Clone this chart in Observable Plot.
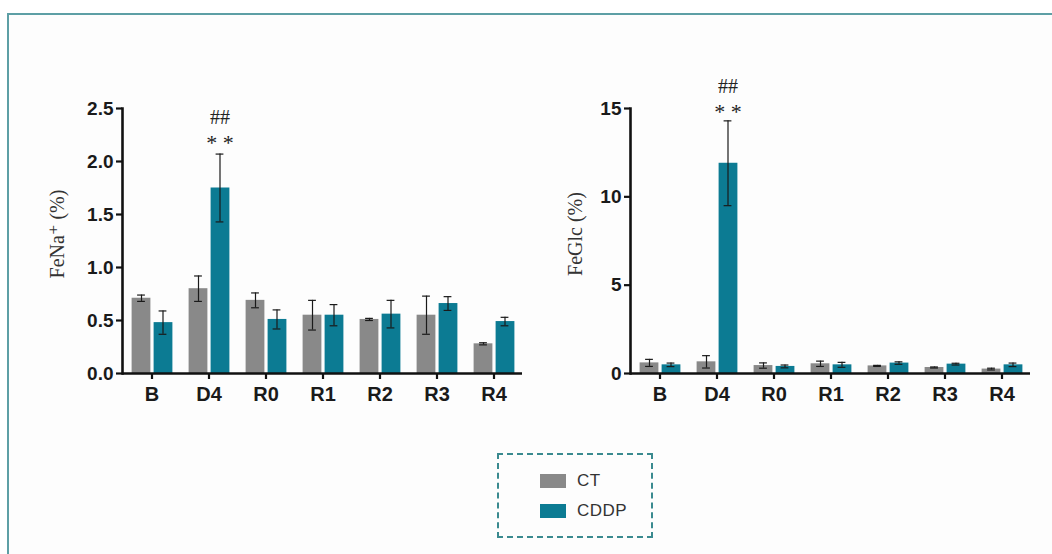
<!DOCTYPE html>
<html>
<head>
<meta charset="utf-8">
<script src="https://cdn.jsdelivr.net/npm/d3@7"></script>
<script src="https://cdn.jsdelivr.net/npm/@observablehq/plot@0.6"></script>
<style>
  html, body { margin: 0; padding: 0; background: #ffffff; width: 1052px; height: 554px; overflow: hidden; }
  #frame { position: absolute; left: 7px; top: 13px; width: 1070px; height: 570px; border: 2px solid #5d9fa5; background: #fdfdfd; }
  .panel { position: absolute; top: 60px; }
  #legend { position: absolute; left: 497px; top: 453px; width: 152px; height: 81px; border: 2px dashed #3a8a8f; font-family: "Liberation Sans", Arial, sans-serif; font-size: 17px; color: #333; }
  .item { position: absolute; left: 41px; height: 14px; }
  .sw { position: absolute; left: 0; top: 0; width: 26px; height: 14px; }
  .lab { position: absolute; left: 37px; top: -3px; line-height: 20px; white-space: nowrap; letter-spacing: 0.5px; }
</style>
</head>
<body>
<div id="frame"></div>
<div id="left" class="panel" style="left:40px"></div>
<div id="right" class="panel" style="left:548px"></div>
<div id="legend"></div>
<script>
const categories = ["B", "D4", "R0", "R1", "R2", "R3", "R4"];
const seriesNames = ["CT", "CDDP"];
const seriesColors = ["#898989", "#0c7b93"];

const fenaCT       = [0.71, 0.80, 0.69, 0.55, 0.51, 0.55, 0.28];
const fenaCTerr    = [0.03, 0.12, 0.07, 0.14, 0.01, 0.18, 0.01];
const fenaCDDP     = [0.48, 1.75, 0.51, 0.55, 0.56, 0.66, 0.49];
const fenaCDDPerr  = [0.11, 0.32, 0.09, 0.10, 0.13, 0.065, 0.04];

const feglcCT      = [0.60, 0.66, 0.45, 0.55, 0.43, 0.34, 0.25];
const feglcCTerr   = [0.20, 0.35, 0.15, 0.15, 0.03, 0.03, 0.05];
const feglcCDDP    = [0.49, 11.9, 0.40, 0.49, 0.59, 0.53, 0.49];
const feglcCDDPerr = [0.10, 2.4, 0.08, 0.14, 0.07, 0.05, 0.10];

const fenaTicks  = [0, 0.5, 1.0, 1.5, 2.0, 2.5];
const feglcTicks = [0, 5, 10, 15];

const markCategory = "D4";
const markTop = "##";
const markBottom = "* *";

function rows(vals, errs) {
  return categories.map((c, i) => ({cat: c, v: vals[i], e: errs[i]}));
}

function panel({ct, cdd, ticks, yMax, yLabel, tickFmt, labelDx, markDy}) {
  const serif = "'Liberation Serif', 'DejaVu Serif', 'Times New Roman', serif";
  const sans = "'Liberation Sans', Arial, Helvetica, sans-serif";
  const capIn = 24.6;
  const marked = cdd.filter(d => d.cat === markCategory);
  return Plot.plot({
    width: 500,
    height: 352,
    marginLeft: 82,
    marginRight: 18,
    marginTop: 48,
    marginBottom: 39,
    style: {background: "transparent", overflow: "visible"},
    x: {domain: categories, padding: 0, axis: null},
    y: {domain: [0, yMax], axis: null},
    marks: [
      Plot.barY(ct, {x: "cat", y: "v", fill: seriesColors[0], insetLeft: 8.6, insetRight: 29.6}),
      Plot.barY(cdd, {x: "cat", y: "v", fill: seriesColors[1], insetLeft: 30.6, insetRight: 7.6}),
      Plot.ruleX(ct, {x: "cat", y1: d => d.v - d.e, y2: d => d.v + d.e, dx: -10.5, stroke: "#1a1a1a", strokeWidth: 1.2}),
      Plot.ruleX(cdd, {x: "cat", y1: d => d.v - d.e, y2: d => d.v + d.e, dx: 11, stroke: "#1a1a1a", strokeWidth: 1.2}),
      Plot.tickY(ct, {x: "cat", y: d => d.v + d.e, dx: -10.5, insetLeft: capIn, insetRight: capIn, stroke: "#1a1a1a", strokeWidth: 1.2}),
      Plot.tickY(ct, {x: "cat", y: d => d.v - d.e, dx: -10.5, insetLeft: capIn, insetRight: capIn, stroke: "#1a1a1a", strokeWidth: 1.2}),
      Plot.tickY(cdd, {x: "cat", y: d => d.v + d.e, dx: 11, insetLeft: capIn, insetRight: capIn, stroke: "#1a1a1a", strokeWidth: 1.2}),
      Plot.tickY(cdd, {x: "cat", y: d => d.v - d.e, dx: 11, insetLeft: capIn, insetRight: capIn, stroke: "#1a1a1a", strokeWidth: 1.2}),
      Plot.text(marked, {x: "cat", y: d => d.v + d.e, text: () => markBottom, dx: 11, dy: markDy, fontFamily: serif, fontSize: 22, fill: "#222", lineAnchor: "middle"}),
      Plot.text(marked, {x: "cat", y: d => d.v + d.e, text: () => markTop, dx: 11, dy: markDy - 25, fontFamily: serif, fontSize: 20, fill: "#222", lineAnchor: "middle"}),
      Plot.axisY({ticks: ticks, tickSize: 6, tickPadding: 3, strokeWidth: 2.2, stroke: "#111", fontSize: 19, fontWeight: "bold", fontFamily: sans, color: "#1a1a1a", tickFormat: tickFmt, label: null}),
      Plot.axisX({tickSize: 6, tickPadding: 7, strokeWidth: 2.2, stroke: "#111", fontSize: 20, fontWeight: "bold", fontFamily: sans, color: "#1a1a1a", label: null}),
      Plot.ruleY([0], {stroke: "#111", strokeWidth: 2.6}),
      Plot.frame({anchor: "left", stroke: "#111", strokeWidth: 2.6}),
      Plot.text([yLabel], {frameAnchor: "left", textAnchor: "middle", dx: labelDx, dy: -7, rotate: -90, fontFamily: serif, fontSize: 20, fill: "#333", text: d => d})
    ]
  });
}

document.getElementById("left").appendChild(panel({
  ct: rows(fenaCT, fenaCTerr), cdd: rows(fenaCDDP, fenaCDDPerr),
  ticks: fenaTicks, yMax: 2.5, yLabel: "FeNa\u207A (%)", tickFmt: d3.format(".1f"), labelDx: -65, markDy: -11
}));
document.getElementById("right").appendChild(panel({
  ct: rows(feglcCT, feglcCTerr), cdd: rows(feglcCDDP, feglcCDDPerr),
  ticks: feglcTicks, yMax: 15, yLabel: "FeGlc (%)", tickFmt: d3.format("d"), labelDx: -55, markDy: -9
}));

const legend = document.getElementById("legend");
seriesNames.forEach((name, i) => {
  const item = document.createElement("div");
  item.className = "item";
  item.style.top = (19 + i * 30) + "px";
  item.innerHTML = `<div class="sw" style="background:${seriesColors[i]}"></div><div class="lab">${name}</div>`;
  legend.appendChild(item);
});
</script>
</body>
</html>
